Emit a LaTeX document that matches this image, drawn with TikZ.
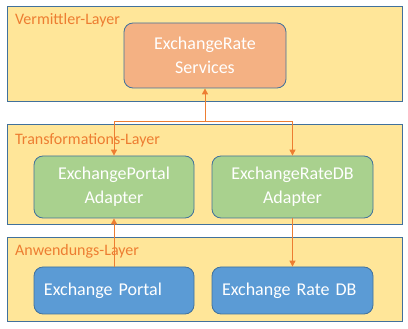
\documentclass[tikz,border=0pt]{standalone}
\usepackage{fontspec}
\setmainfont{Carlito}
\usetikzlibrary{arrows.meta}
\definecolor{layerfill}{HTML}{FFE699}
\definecolor{edge}{HTML}{41719C}
\definecolor{orangetxt}{HTML}{ED7D31}
\definecolor{boxorange}{HTML}{F4B183}
\definecolor{boxgreen}{HTML}{A9D18E}
\definecolor{boxblue}{HTML}{5B9BD5}
\tikzset{
  layer/.style={draw=edge, fill=layerfill, line width=1pt, minimum width=395pt, inner sep=0pt},
  layerlabel/.style={anchor=west, text=orangetxt, font=\fontsize{16}{19}\selectfont, inner sep=0pt},
  box/.style={draw=edge, line width=0.8pt, rounded corners=9pt, text=white, font=\fontsize{18}{24}\selectfont, inner sep=0pt, align=center},
  conn/.style={draw=orangetxt, line width=1pt, -{Triangle[length=6pt,width=6pt]}},
  plain/.style={draw=orangetxt, line width=1pt}
}
\begin{document}
\begin{tikzpicture}[x=1pt,y=-1pt]
\useasboundingbox (0,0) rectangle (408,329);
% layers
\node[layer, minimum height=95pt] (l1) at (204.5,54.5) {};
\node[layer, minimum height=100pt] (l2) at (204.5,175) {};
\node[layer, minimum height=84pt] (l3) at (204.5,280) {};
\node[layerlabel] (t1) at (15,20) {Vermittler-Layer};
\node[layerlabel] (t2) at (15,140) {Transformations-Layer};
\node[layerlabel] (t3) at (15,251) {Anwendungs-Layer};
% boxes
\node[box, fill=boxorange, minimum width=162pt, minimum height=65pt] (ers) at (205,55.5) {ExchangeRate\\Services};
\node[box, fill=boxgreen, minimum width=160pt, minimum height=62pt] (epa) at (114,187) {ExchangePortal\\Adapter};
\node[box, fill=boxgreen, minimum width=161pt, minimum height=62pt] (erdba) at (292.5,187) {ExchangeRateDB\\Adapter};
\node[box, fill=boxblue, minimum height=47pt, text width=140pt, inner xsep=10pt, align=left] (ep) at (114,290.5) {Exchange Portal};
\node[box, fill=boxblue, minimum height=47pt, text width=141pt, inner xsep=10pt, align=left] (erdb) at (292.5,290.5) {Exchange Rate DB};
% connectors
\coordinate (j) at (205,122);
\draw[conn] (j) -- (ers.south);
\draw[conn] (j) -| (epa.north);
\draw[conn] (j) -| (erdba.north);
\draw[conn] (ep.north) -- (epa.south);
\draw[conn] (erdba.south) -- (erdb.north);
\end{tikzpicture}
\end{document}
